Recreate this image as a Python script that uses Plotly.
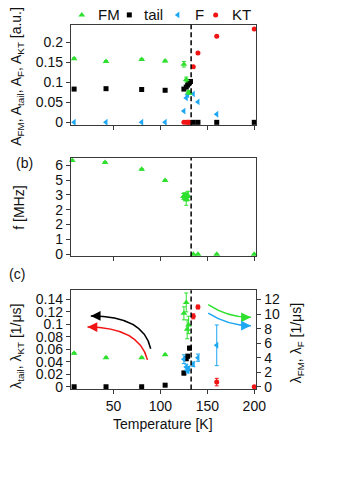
import plotly.graph_objects as go

W, H = 354, 501
OFF = 8  # page margin around the figure div (on every side)
FW, FH = W - 2 * OFF, H - 2 * OFF

# transition temperature (dashed line)
T_C = 132.7

# (a) amplitudes [a.u.]
T_A_FM = [8, 42, 80, 105, 125, 127.5, 130, 131]
A_FM = [0.159, 0.152, 0.157, 0.153, 0.145, 0.107, 0.075, 0.073]
A_FM_ERR = [0.002, 0.002, 0.002, 0.002, 0.007, 0.006, 0.004, 0.003]
T_A_TAIL = [8, 42, 80, 105, 125, 127.5, 129, 130, 131, 132, 135, 140, 160, 200]
A_TAIL = [0.083, 0.084, 0.082, 0.080, 0.083, 0.088, 0.093, 0.097, 0.100, 0.102, 0, 0, 0, 0]
T_A_F = [8, 42, 80, 105, 125, 127.5, 129, 135, 140, 160]
A_F = [0, 0, 0, 0, 0.028, 0.061, 0.069, 0.071, 0.051, 0.020]
T_A_KT = [125, 127.5, 129, 130, 131, 135, 140, 160, 200]
A_KT = [0, 0, 0, 0, 0, 0.139, 0.173, 0.215, 0.233]

# (b) FM precession frequency [MHz]
T_FREQ = [6, 41, 80, 105, 124.5, 125.5, 126.5, 127.5, 128.5, 129.5, 135, 140, 160, 200]
FREQ = [6.33, 6.2, 5.73, 4.98, 3.9, 3.95, 3.85, 3.7, 3.9, 3.95, 0, 0, 0, 0]
FREQ_ERR = [0.05, 0.05, 0.05, 0.05, 0.2, 0.2, 0.25, 0.4, 0.3, 0.3, 0, 0, 0, 0]
FREQ_TICKS = [0, 1, 2, 3, 4, 5, 6]
FREQ_TICKTEXT = ["0", "1", "2", "2", "3", "5", "6"]  # as printed on the original axis

# (c) relaxation rates
T_L_FM = [8, 42, 80, 105, 125, 127.5, 128.5, 130]
L_FM = [4.6, 4.0, 4.0, 4.4, 10.1, 11.6, 7.9, 8.5]  # right axis [1/us]
L_FM_ERR = [0.1, 0.1, 0.1, 0.1, 0.9, 1.3, 1.3, 1.2]
T_L_TAIL = [8, 42, 80, 105, 125, 127.5, 129, 131]
L_TAIL = [0, 0, 0, 0.0025, 0.022, 0.045, 0.049, 0.062]  # left axis
L_TAIL_ERR = [0, 0, 0, 0, 0.003, 0.003, 0.003, 0.003]
T_L_F = [125, 127.5, 129, 130, 135, 140, 160]
L_F = [3.8, 2.7, 2.2, 2.5, 3.1, 4.0, 5.7]  # right axis
L_F_ERR = [0.6, 0.4, 0.3, 0.3, 0.3, 0.5, 2.8]
T_L_KT = [135, 140, 160, 200]
L_KT = [0.113, 0.128, 0.0075, 0]  # left axis
L_KT_ERR = [0.004, 0.003, 0.006, 0]

NAMES = ["FM", "tail", "F", "KT"]
COLORS = {"FM": "#2fe02f", "tail": "#000000", "F": "#1ea7f2", "KT": "#f01414"}
SYMBOLS = {"FM": "triangle-up", "tail": "square", "F": "triangle-left", "KT": "circle"}
SIZES = {"FM": 6, "tail": 5, "F": 6, "KT": 5}

FONT = "Liberation Sans, Arial, sans-serif"
FRAME = "#3a3a3a"


def px_x(p):
    return (p - OFF) / FW


def px_y(p):
    return 1 - (p - OFF) / FH


def pts(x, y, name, xa, ya, err=None):
    return go.Scatter(
        x=x, y=y, mode="markers", name=name, showlegend=False,
        xaxis=xa, yaxis=ya,
        marker=dict(symbol=SYMBOLS[name], size=SIZES[name], color=COLORS[name]),
        error_y=None if err is None else dict(
            type="data", array=err, color=COLORS[name], thickness=1, width=2),
        cliponaxis=False,
    )


def label(text, x, y, size=14, angle=0, xanchor="center"):
    fig.add_annotation(x=px_x(x), y=px_y(y), xref="paper", yref="paper", text=text,
                       textangle=angle, showarrow=False, xanchor=xanchor,
                       yanchor="middle", font=dict(size=size, color="#111"))


fig = go.Figure()

# (a)
fig.add_trace(pts(T_A_TAIL, A_TAIL, "tail", "x", "y"))
fig.add_trace(pts(T_A_F, A_F, "F", "x", "y"))
fig.add_trace(pts(T_A_KT, A_KT, "KT", "x", "y"))
fig.add_trace(pts(T_A_FM, A_FM, "FM", "x", "y", A_FM_ERR))
# (b)
fig.add_trace(pts(T_FREQ, FREQ, "FM", "x2", "y2", FREQ_ERR))
# (c)
fig.add_trace(pts(T_L_TAIL, L_TAIL, "tail", "x3", "y3", L_TAIL_ERR))
fig.add_trace(pts(T_L_KT, L_KT, "KT", "x3", "y3", L_KT_ERR))
fig.add_trace(pts(T_L_FM, L_FM, "FM", "x3", "y4", L_FM_ERR))
fig.add_trace(pts(T_L_F, L_F, "F", "x3", "y4", L_F_ERR))

# hand-made legend on a hidden pixel-space strip above panel (a)
LEG_MARK_X = [84, 133, 183, 222]
LEG_TEXT_X = [99, 146, 199, 237]
LEG_Y = 14
LEG_STRIP = 24
for name, mx in zip(NAMES, LEG_MARK_X):
    fig.add_trace(go.Scatter(
        x=[mx], y=[LEG_Y], mode="markers", showlegend=False, xaxis="x4", yaxis="y5",
        marker=dict(symbol=SYMBOLS[name], size=SIZES[name], color=COLORS[name]),
        cliponaxis=False,
    ))
for name, tx in zip(NAMES, LEG_TEXT_X):
    label(name, tx, LEG_Y, size=15, xanchor="left")

X_RANGE = [4.45, 202.3]
X_DOM = [px_x(72.7), px_x(264)]
axis_common = dict(showline=True, linecolor=FRAME, linewidth=1, mirror=True,
                   ticks="outside", ticklen=4, tickcolor=FRAME, showgrid=False,
                   zeroline=False, tickfont=dict(size=14, color="#111"))

RIGHT_SCALE = 12 / 0.14
Y3_RANGE = [-0.0043, 0.155]

fig.update_layout(
    width=FW, height=FH,
    margin=dict(l=0, r=0, t=0, b=0),
    plot_bgcolor="rgba(0,0,0,0)", paper_bgcolor="white",
    font=dict(family=FONT, size=14, color="#111"),
    showlegend=False,
    xaxis=dict(domain=X_DOM, range=X_RANGE, anchor="y", tickvals=[50, 100, 150, 200],
               showticklabels=False, **axis_common),
    xaxis2=dict(domain=X_DOM, range=X_RANGE, anchor="y2", tickvals=[50, 100, 150, 200],
                showticklabels=False, **axis_common),
    xaxis3=dict(domain=X_DOM, range=X_RANGE, anchor="y3", tickvals=[50, 100, 150, 200],
                **axis_common),
    yaxis=dict(domain=[px_y(126), px_y(24)], range=[-0.0074, 0.2435], anchor="x",
               tickvals=[0, 0.05, 0.1, 0.15, 0.2], ticktext=["0", "0.05", "0.1", "0.15", "0.2"],
               **axis_common),
    yaxis2=dict(domain=[px_y(259), px_y(159.3)], range=[-0.15, 6.49], anchor="x2",
                tickvals=FREQ_TICKS, ticktext=FREQ_TICKTEXT, **axis_common),
    yaxis3=dict(domain=[px_y(394), px_y(293.3)], range=Y3_RANGE, anchor="x3",
                tickvals=[0, 0.02, 0.04, 0.06, 0.08, 0.1, 0.12, 0.14],
                ticktext=["0", "0.02", "0.04", "0.06", "0.08", "0.1", "0.12", "0.14"],
                **axis_common),
    yaxis4=dict(overlaying="y3", side="right", anchor="x3",
                range=[v * RIGHT_SCALE for v in Y3_RANGE],
                tickvals=[0, 2, 4, 6, 8, 10, 12],
                showline=True, linecolor=FRAME, linewidth=1, ticks="outside", ticklen=4,
                tickcolor=FRAME, showgrid=False, zeroline=False,
                tickfont=dict(size=14, color="#111")),
    xaxis4=dict(domain=[0, 1], range=[OFF, W - OFF], visible=False, anchor="y5"),
    yaxis5=dict(domain=[px_y(LEG_STRIP), 1], range=[LEG_STRIP, OFF], visible=False,
                anchor="x4"),
)

# dashed transition line in every panel
for ya in ["y", "y2", "y3"]:
    fig.add_shape(type="line", xref=ya.replace("y", "x"), yref=f"{ya} domain",
                  x0=T_C, x1=T_C, y0=0, y1=1,
                  line=dict(color="black", width=1.5, dash="5px,3px"))

# curved arrows in panel (c): (start, control, end) in (T, left-axis value)
ARROWS = [
    ("black", (89.6, 0.061), (82.4, 0.1137), (25.8, 0.1137)),
    ("#f01414", (86.2, 0.0431), (77.2, 0.0955), (22.3, 0.0957)),
    ("#2fe02f", (150.9, 0.132), (172.3, 0.111), (196.4, 0.1115)),
    ("#1ea7f2", (150.9, 0.118), (172.3, 0.0976), (196.4, 0.098)),
]
for col, s, c, e in ARROWS:
    fig.add_shape(type="path", xref="x3", yref="y3",
                  path=f"M {s[0]},{s[1]} Q {c[0]},{c[1]} {e[0]},{e[1]}",
                  line=dict(color=col, width=1.5))
    back = 1 if e[0] < c[0] else -1
    fig.add_annotation(x=e[0], y=e[1], ax=e[0] + back * 6, ay=e[1], xref="x3", yref="y3",
                       axref="x3", ayref="y3", text="", showarrow=True,
                       arrowhead=2, arrowsize=1.3, arrowwidth=1.5, arrowcolor=col)

# axis titles and panel labels
label("A<sub>FM</sub>, A<sub>tail</sub>, A<sub>F</sub>, A<sub>KT</sub> [a.u.]", 17, 76, angle=-90)
label("f [MHz]", 19, 210, angle=-90)
label("λ<sub>tail</sub>, λ<sub>KT</sub> [1/μs]", 17, 350, angle=-90)
label("λ<sub>FM</sub>, λ<sub>F</sub> [1/μs]", 306, 347, angle=-90)
label("(b)", 25, 164)
label("(c)", 17, 277)
label("Temperature [K]", 168, 429)

fig.write_html("out.html")
